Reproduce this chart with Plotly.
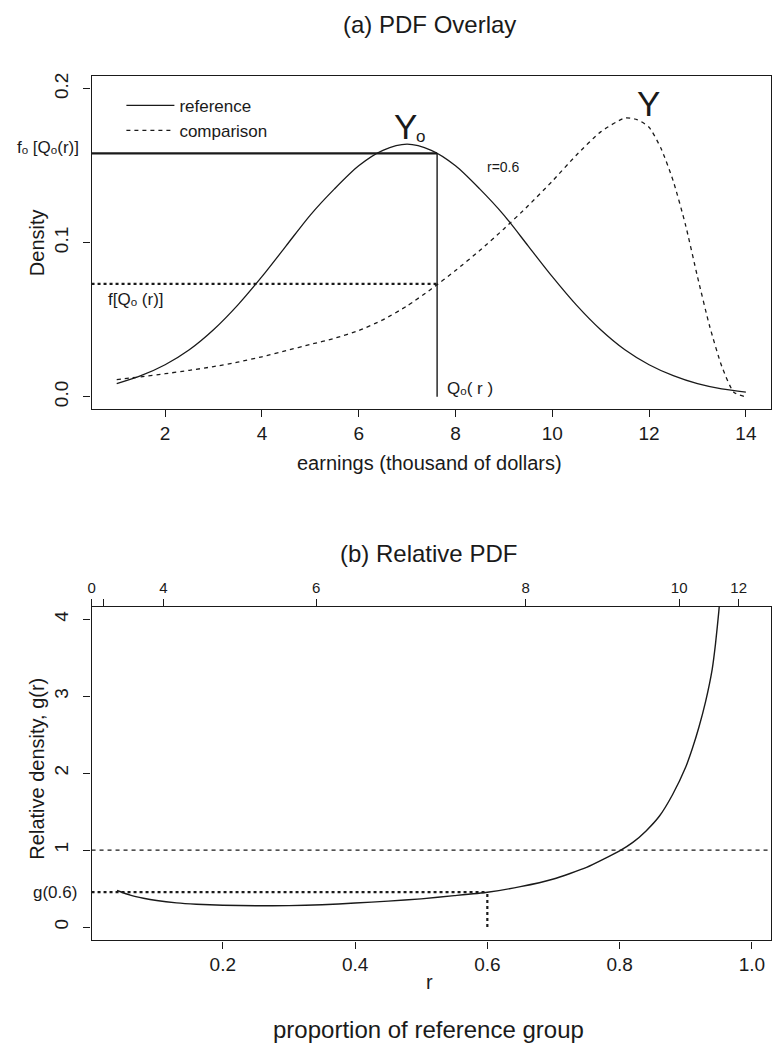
import plotly.graph_objects as go

# ---------------- data ----------------
earn_ref = [1, 1.5, 2, 2.5, 3, 3.5, 4, 4.5, 5, 5.5, 6, 6.5, 7, 7.5, 8, 8.5, 9,
            9.5, 10, 10.5, 11, 11.5, 12, 12.5, 13, 13.5, 14]
dens_ref = [0.0085, 0.0137, 0.0208, 0.0305, 0.0435, 0.0595, 0.078, 0.098,
            0.118, 0.135, 0.150, 0.160, 0.164, 0.160, 0.150, 0.135, 0.118,
            0.098, 0.078, 0.0595, 0.0435, 0.0305, 0.0208, 0.0137, 0.0085,
            0.0051, 0.0030]

earn_cmp = [1, 1.5, 2, 2.5, 3, 3.5, 4, 4.5, 5, 5.5, 6, 6.5, 7, 7.5, 8, 8.5, 9,
            9.5, 10, 10.5, 11, 11.5, 11.75, 12, 12.25, 12.5, 12.75, 13, 13.25,
            13.5, 13.75, 14]
dens_cmp = [0.0112, 0.013, 0.015, 0.0172, 0.0196, 0.0225, 0.026, 0.030, 0.034,
            0.038, 0.043, 0.050, 0.059, 0.070, 0.082, 0.095, 0.109, 0.124,
            0.140, 0.157, 0.172, 0.181, 0.180, 0.175, 0.161, 0.140, 0.112,
            0.078, 0.046, 0.020, 0.003, 0.0]

r_point = 0.6          # proportion r
q0_at_r = 7.62         # Q0(r)
f0_at_q = 0.158        # f0[Q0(r)]
f_at_q = 0.0733        # f[Q0(r)]

r_vals = [0.04, 0.06, 0.08, 0.10, 0.13, 0.16, 0.20, 0.25, 0.30, 0.35, 0.40,
          0.45, 0.50, 0.55, 0.60, 0.65, 0.70, 0.75, 0.80, 0.82, 0.84, 0.86,
          0.88, 0.90, 0.91, 0.92, 0.93, 0.94, 0.945, 0.95, 0.955]
g_vals = [0.475, 0.415, 0.375, 0.345, 0.315, 0.297, 0.283, 0.277, 0.279,
          0.290, 0.312, 0.337, 0.367, 0.408, 0.453, 0.525, 0.625, 0.775, 0.99,
          1.10, 1.25, 1.44, 1.72, 2.08, 2.32, 2.60, 2.93, 3.35, 3.68, 4.10, 4.6]
g_at_r = 0.453         # g(0.6)
g_ref_level = 1.0

top_x_ticks = [2, 4, 6, 8, 10, 12, 14]
top_y_ticks = [0.0, 0.1, 0.2]
bot_x_ticks = [0.2, 0.4, 0.6, 0.8, 1.0]
bot_y_ticks = [0, 1, 2, 3, 4]
# secondary (earnings) axis of panel (b): r positions of earnings quantiles
earn_axis_r = [0.0017, 0.11, 0.341, 0.658, 0.89, 0.98]
earn_axis_labels = ["0", "4", "6", "8", "10", "12"]
earn_axis_unlabeled_r = [0.0195]   # tick for 2 (label hidden, as in R)

# ---------------- layout helpers ----------------
W, H = 780, 1048
FONT = "Liberation Sans, Arial, Helvetica, DejaVu Sans, sans-serif"
INK = "#1a1a1a"


def px(x):
    return x / W


def py(y):
    return 1 - y / H


x_dom = [px(88), px(771)]
top_dom = [py(407), py(73)]
bot_dom = [py(940), py(605.7)]
x_range_top = [0.48, 14.52]
y_range_top = [-0.0078, 0.2084]
x_range_bot = [0.0015, 1.029]
y_range_bot = [-0.172, 4.16]

fig = go.Figure()

# ---- panel (a) ----
fig.add_trace(go.Scatter(x=earn_ref, y=dens_ref, mode="lines", name="reference",
                         line=dict(color=INK, width=1.3, shape="spline", smoothing=0.8),
                         xaxis="x", yaxis="y"))
fig.add_trace(go.Scatter(x=earn_cmp, y=dens_cmp, mode="lines", name="comparison",
                         line=dict(color=INK, width=1.3, dash="4px,4px",
                                   shape="spline", smoothing=0.6),
                         xaxis="x", yaxis="y"))
fig.add_trace(go.Scatter(x=[x_range_top[0], q0_at_r], y=[f0_at_q, f0_at_q], mode="lines",
                         line=dict(color=INK, width=2.2), showlegend=False,
                         xaxis="x", yaxis="y"))
fig.add_trace(go.Scatter(x=[q0_at_r, q0_at_r], y=[0, f0_at_q], mode="lines",
                         line=dict(color=INK, width=1.4), showlegend=False,
                         xaxis="x", yaxis="y"))
fig.add_trace(go.Scatter(x=[x_range_top[0], q0_at_r], y=[f_at_q, f_at_q], mode="lines",
                         line=dict(color=INK, width=2.2, dash="3px,3px"), showlegend=False,
                         xaxis="x", yaxis="y"))

# ---- panel (b) ----
fig.add_trace(go.Scatter(x=r_vals, y=g_vals, mode="lines", showlegend=False,
                         line=dict(color=INK, width=1.4, shape="spline", smoothing=0.5),
                         xaxis="x2", yaxis="y2"))
fig.add_trace(go.Scatter(x=[x_range_bot[0], r_point], y=[g_at_r, g_at_r], mode="lines",
                         line=dict(color=INK, width=2.2, dash="3px,3px"), showlegend=False,
                         xaxis="x2", yaxis="y2"))
fig.add_trace(go.Scatter(x=[r_point, r_point], y=[0, g_at_r], mode="lines",
                         line=dict(color=INK, width=2.2, dash="3px,3px"), showlegend=False,
                         xaxis="x2", yaxis="y2"))
fig.add_shape(type="line", xref="x2 domain", yref="y2", x0=0, x1=1,
              y0=g_ref_level, y1=g_ref_level,
              line=dict(color=INK, width=1.2, dash="4px,4px"))

axis_common = dict(showline=True, mirror=True, linecolor=INK, linewidth=1.4,
                   ticks="outside", ticklen=7, tickwidth=1.2, tickcolor=INK,
                   showgrid=False, zeroline=False,
                   tickfont=dict(family=FONT, size=19, color=INK))

fig.update_layout(
    width=W, height=H, autosize=False,
    margin=dict(l=0, r=0, t=0, b=0),
    paper_bgcolor="white", plot_bgcolor="white",
    font=dict(family=FONT, color=INK),
    showlegend=True,
    legend=dict(x=px(118), y=py(85), xanchor="left", yanchor="top",
                bgcolor="rgba(0,0,0,0)", borderwidth=0,
                font=dict(family=FONT, size=17, color=INK),
                itemwidth=48, tracegroupgap=0),
    xaxis=dict(domain=x_dom, range=x_range_top, anchor="y",
               tickvals=top_x_ticks, **axis_common),
    yaxis=dict(domain=top_dom, range=y_range_top, anchor="x",
               tickvals=top_y_ticks, tickformat=".1f", tickangle=-90,
               ticklabelstandoff=8, **axis_common),
    xaxis2=dict(domain=x_dom, range=x_range_bot, anchor="y2",
                tickvals=bot_x_ticks, tickformat=".1f", **axis_common),
    yaxis2=dict(domain=bot_dom, range=y_range_bot, anchor="x2",
                tickvals=bot_y_ticks, tickangle=-90, ticklabelstandoff=8,
                **axis_common),
    xaxis3=dict(overlaying="x2", side="top", anchor="y2", range=x_range_bot,
                tickvals=earn_axis_r, ticktext=earn_axis_labels,
                showline=False, showgrid=False, zeroline=False,
                ticks="outside", ticklen=7, tickwidth=1.2, tickcolor=INK,
                tickfont=dict(family=FONT, size=15, color=INK),
                minor=dict(tickvals=earn_axis_unlabeled_r, ticks="outside",
                           ticklen=7, tickwidth=1.2, tickcolor=INK, showgrid=False)),
)

# trace that activates the top (earnings) axis of panel (b)
fig.add_trace(go.Scatter(x=[x_range_bot[0]], y=[None], xaxis="x3", yaxis="y2",
                         showlegend=False, hoverinfo="skip"))


def ann(text, x, y, size, xref="paper", yref="paper", xanchor="center",
        yanchor="middle", angle=0):
    fig.add_annotation(text=text, x=x, y=y, xref=xref, yref=yref, showarrow=False,
                       xanchor=xanchor, yanchor=yanchor, textangle=angle,
                       font=dict(family=FONT, size=size, color=INK))


# titles and axis labels
ann("(a) PDF Overlay", px(428), py(22), 24)
ann("earnings (thousand of dollars)", px(428), py(461), 20)
ann("Density", px(33), py(240), 20, angle=-90)
ann("(b) Relative PDF", px(427), py(552), 24)
ann("Relative density, g(r)", px(33), py(768), 20, angle=-90)
ann("r", px(428), py(982), 20)
ann("proportion of reference group", px(427), py(1029), 24)

# panel (a) labels
ann("Y", 11.98, 0.1906, 35, xref="x", yref="y")
ann("Y", 6.96, 0.1754, 35, xref="x", yref="y")
ann("o", 7.27, 0.1690, 17, xref="x", yref="y")
ann("r=0.6", 9.0, 0.1495, 14, xref="x", yref="y")
ann("f[Qₒ (r)]", 0.77, 0.0634, 17, xref="x", yref="y", xanchor="left")
ann("Qₒ( r )", 7.78, 0.0052, 17, xref="x", yref="y", xanchor="left")
ann("fₒ [Qₒ(r)]", px(77), f0_at_q + 0.0038, 17, yref="y", xanchor="right")

# panel (b) label
ann("g(0.6)", px(75), g_at_r, 17, yref="y2", xanchor="right")

fig.write_html("out.html")
